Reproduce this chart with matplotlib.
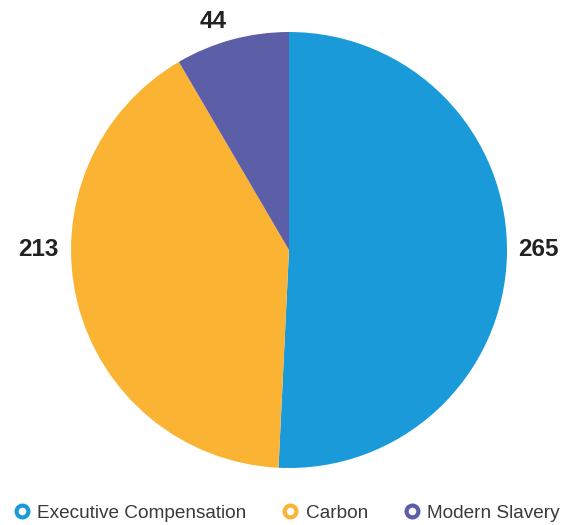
import matplotlib.pyplot as plt
from matplotlib.lines import Line2D

# dane
categories = ["Executive Compensation", "Carbon", "Modern Slavery"]
values = [265, 213, 44]
colors = ["#1a9ad9", "#fbb334", "#5d5ea8"]

fig = plt.figure(figsize=(5.73, 5.25), dpi=100)
ax = fig.add_axes([0, 0, 1, 1])

# wykres kolowy
ax.pie(values, colors=colors, startangle=90, counterclock=False,
       center=(289, 275), radius=218, frame=True,
       wedgeprops=dict(linewidth=0))
ax.set_xlim(0, 573)
ax.set_ylim(0, 525)
ax.set_aspect("equal")
ax.axis("off")

# etykiety wartosci
label_pos = [(538, 276), (38, 276), (213, 504)]
for v, (x, y) in zip(values, label_pos):
    ax.text(x, y, str(v), ha="center", va="center", fontsize=17.5,
            fontweight="bold", color="#222222", family="Liberation Sans")

# legenda
handles = [Line2D([], [], marker="o", linestyle="none", markersize=8.5,
                  markerfacecolor="white", markeredgecolor=c, markeredgewidth=3)
           for c in colors]
fig.legend(handles, categories, loc="center", bbox_to_anchor=(0.5, 12 / 525),
           ncol=3, frameon=False, handletextpad=0.35, columnspacing=1.85,
           handlelength=0.9, prop={"family": "Liberation Sans", "size": 13.7},
           labelcolor="#3a3a3a")

fig.savefig("out.png", dpi=100)
